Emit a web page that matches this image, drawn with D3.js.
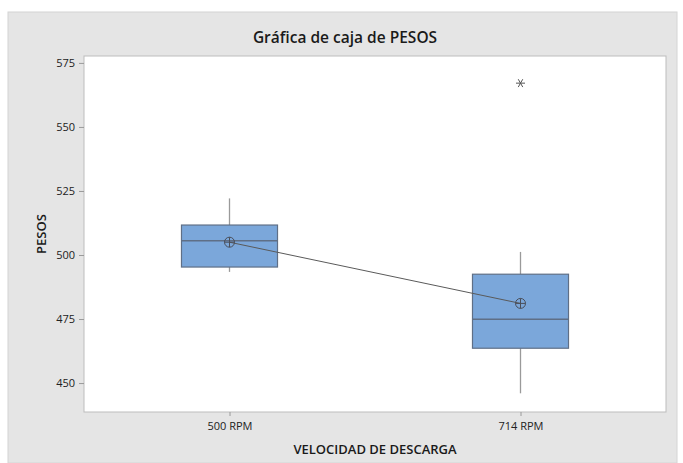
<!DOCTYPE html>
<html><head><meta charset="utf-8">
<script src="https://cdn.jsdelivr.net/npm/d3@7"></script>
<style>body{margin:0;background:#fff;}svg{display:block;font-family:"Open Sans","Noto Sans",sans-serif;}</style>
</head><body>
<script>
const categories = ["500 RPM", "714 RPM"];
const whiskerLow  = [493.4, 446.0];
const q1          = [495.3, 463.6];
const median      = [505.6, 474.9];
const q3          = [511.7, 492.5];
const whiskerHigh = [522.1, 501.2];
const means       = [505.0, 481.1];
const outliers    = [[], [567.1]];
const yTicks = [450, 475, 500, 525, 550, 575];
const title = "Gráfica de caja de PESOS";
const xTitle = "VELOCIDAD DE DESCARGA";
const yTitle = "PESOS";

const W = 683, H = 463;
const plot = {left: 84, right: 666, top: 56, bottom: 412};
const svg = d3.select("body").append("svg").attr("width", W).attr("height", H);

svg.append("rect").attr("x", 8).attr("y", 12).attr("width", 669).attr("height", H - 12)
  .attr("fill", "#e5e5e5").attr("stroke", "#d4d4d4");
svg.append("rect").attr("x", plot.left).attr("y", plot.top)
  .attr("width", plot.right - plot.left).attr("height", plot.bottom - plot.top)
  .attr("fill", "#fff").attr("stroke", "#bdbdbd");

const x = d3.scalePoint().domain(categories).range([plot.left, plot.right]).padding(0.5);
const y = d3.scaleLinear().domain([438.7, 577.7]).range([plot.bottom, plot.top]);

const yAxis = svg.append("g").attr("transform", `translate(${plot.left},0)`)
  .call(d3.axisLeft(y).tickValues(yTicks).tickSize(5).tickPadding(4));
const xAxis = svg.append("g").attr("transform", `translate(0,${plot.bottom})`)
  .call(d3.axisBottom(x).tickSize(4).tickPadding(6));
[yAxis, xAxis].forEach(a => {
  a.select(".domain").remove();
  a.selectAll(".tick line").attr("stroke", "#9a9a9a");
  a.selectAll(".tick text").attr("fill", "#222").style("font-size", "11px").style("font-weight", "500")
   .style("font-family", "'Open Sans','Noto Sans',sans-serif");
});

svg.append("text").attr("x", 345).attr("y", 43).attr("text-anchor", "middle")
  .attr("fill", "#1a1a1a").style("font-size", "15.5px").style("font-weight", "600").text(title);
svg.append("text").attr("x", (plot.left + plot.right) / 2).attr("y", 454).attr("text-anchor", "middle")
  .attr("fill", "#1a1a1a").style("font-size", "13px").style("font-weight", "600").text(xTitle);
svg.append("text").attr("transform", `translate(46,${(plot.top + plot.bottom) / 2}) rotate(-90)`)
  .attr("text-anchor", "middle").attr("fill", "#1a1a1a").style("font-size", "13px").style("font-weight", "600").text(yTitle);

const bw = x.step() * 0.33;
const g = svg.append("g");
categories.forEach((c, i) => {
  const cx = x(c);
  g.append("line").attr("x1", cx).attr("x2", cx).attr("y1", y(whiskerHigh[i])).attr("y2", y(q3[i]))
    .attr("stroke", "#9a9a9a").attr("stroke-width", 1.3);
  g.append("line").attr("x1", cx).attr("x2", cx).attr("y1", y(q1[i])).attr("y2", y(whiskerLow[i]))
    .attr("stroke", "#9a9a9a").attr("stroke-width", 1.3);
  g.append("rect").attr("x", cx - bw / 2).attr("y", y(q3[i])).attr("width", bw)
    .attr("height", y(q1[i]) - y(q3[i])).attr("fill", "#7ba7da").attr("stroke", "#5f6f86").attr("stroke-width", 1.2);
  g.append("line").attr("x1", cx - bw / 2).attr("x2", cx + bw / 2).attr("y1", y(median[i])).attr("y2", y(median[i]))
    .attr("stroke", "#5f6f86").attr("stroke-width", 1.5);
  outliers[i].forEach(v => {
    const oy = y(v), r = 4.5;
    [[ -r, 0, r, 0], [-r * 0.5, -r * 0.87, r * 0.5, r * 0.87], [-r * 0.5, r * 0.87, r * 0.5, -r * 0.87]].forEach(s => {
      g.append("line").attr("x1", cx + s[0]).attr("y1", oy + s[1]).attr("x2", cx + s[2]).attr("y2", oy + s[3])
        .attr("stroke", "#555").attr("stroke-width", 1);
    });
  });
});

const line = d3.line().x((d, i) => x(categories[i])).y(d => y(d));
g.append("path").datum(means).attr("d", line).attr("fill", "none").attr("stroke", "#5a5a5a").attr("stroke-width", 1);
means.forEach((m, i) => {
  const cx = x(categories[i]), cy = y(m), r = 5;
  g.append("circle").attr("cx", cx).attr("cy", cy).attr("r", r).attr("fill", "none").attr("stroke", "#4a4f5a").attr("stroke-width", 1);
  g.append("line").attr("x1", cx - r).attr("x2", cx + r).attr("y1", cy).attr("y2", cy).attr("stroke", "#4a4f5a");
  g.append("line").attr("x1", cx).attr("x2", cx).attr("y1", cy - r).attr("y2", cy + r).attr("stroke", "#4a4f5a");
});
</script>
</body></html>
